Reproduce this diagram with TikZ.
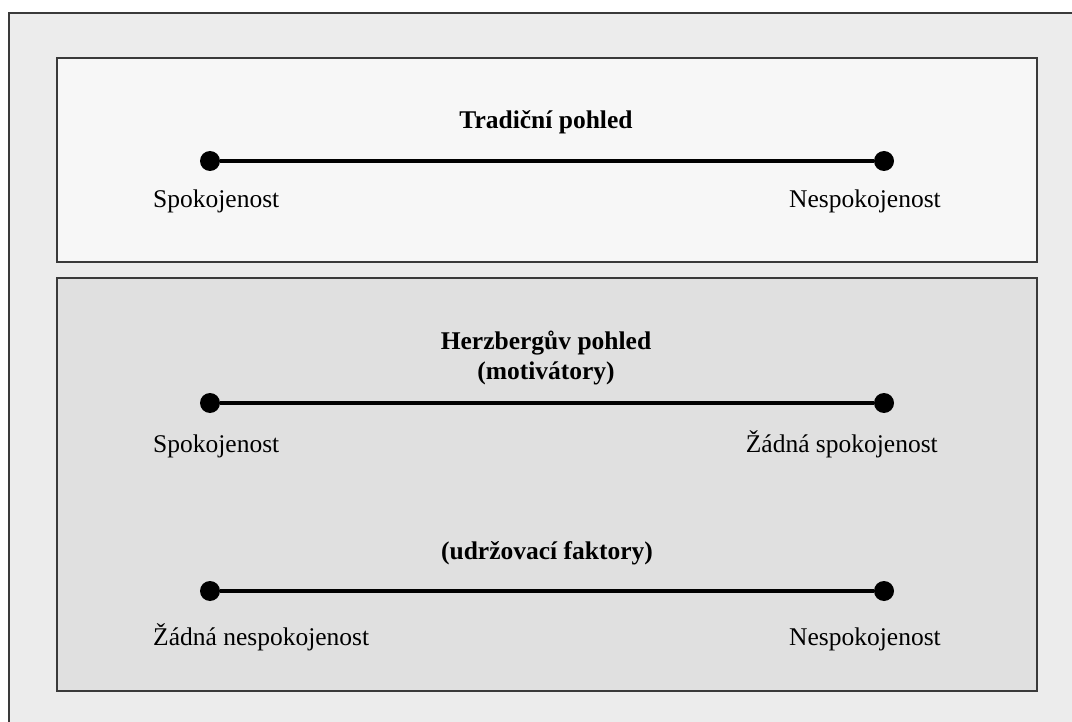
\documentclass[tikz,border=0pt]{standalone}
\usepackage{fontspec}
\setmainfont{Liberation Serif}

\definecolor{outerbg}{HTML}{ECECEC}
\definecolor{topbg}{HTML}{F7F7F7}
\definecolor{lowbg}{HTML}{E0E0E0}
\definecolor{framec}{HTML}{3A3A3A}

\tikzset{
	dot/.style={circle,fill=black,inner sep=0pt,minimum size=20pt},
	axis line/.style={line width=4pt},
	lbl/.style={font=\fontsize{25.5}{30}\selectfont,inner sep=0pt},
	ttl/.style={font=\fontsize{25.5}{30}\selectfont\bfseries,inner sep=0pt,anchor=base},
	panel/.style={draw=framec,line width=1.6pt}
}

\begin{document}
\begin{tikzpicture}[x=1pt,y=-1pt]
			\useasboundingbox (0,0) rectangle (1072,722);
			\fill[white] (0,0) rectangle (1072,722);
			\fill[outerbg] (9,13) rectangle (1072,722);
			\draw[panel] (9,722) -- (9,13) -- (1072,13);
			\draw[panel,fill=topbg] (57,58) rectangle (1037,262);
			\draw[panel,fill=lowbg] (57,278) rectangle (1037,691);

			% traditional view
			\node[ttl] (trad) at (546,129) {Tradiční pohled};
			\node[dot] (t1) at (210,161) {};
			\node[dot] (t2) at (884,161) {};
			\draw[axis line] (t1) -- (t2);
			\node[lbl,anchor=base west] (tl) at (153,208) {Spokojenost};
			\node[lbl,anchor=base east] (tr) at (941,208) {Nespokojenost};

			% Herzberg: motivators
			\node[ttl] (herz) at (546,349) {Herzbergův pohled};
			\node[ttl] (motiv) at (546,379) {(motivátory)};
			\node[dot] (m1) at (210,403) {};
			\node[dot] (m2) at (884,403) {};
			\draw[axis line] (m1) -- (m2);
			\node[lbl,anchor=base west] (ml) at (153,452) {Spokojenost};
			\node[lbl,anchor=base east] (mr) at (938,452) {Žádná spokojenost};

			% Herzberg: hygiene factors
			\node[ttl] (hyg) at (547,559) {(udržovací faktory)};
			\node[dot] (h1) at (210,591) {};
			\node[dot] (h2) at (884,591) {};
			\draw[axis line] (h1) -- (h2);
			\node[lbl,anchor=base west] (hl) at (153,645) {Žádná nespokojenost};
			\node[lbl,anchor=base east] (hr) at (941,645) {Nespokojenost};
		\end{tikzpicture}
\end{document}
